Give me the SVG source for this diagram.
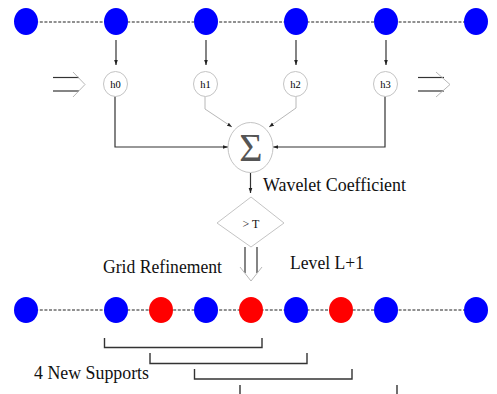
<svg xmlns="http://www.w3.org/2000/svg" width="497" height="394" viewBox="0 0 497 394">
<defs>
<marker id="ah" viewBox="0 0 6 6" refX="6" refY="3" markerWidth="5" markerHeight="5" orient="auto" markerUnits="userSpaceOnUse">
<path d="M0,0.8 L6,3 L0,5.2 z" fill="#222"/>
</marker>
<style>
.dash{stroke:#222;stroke-width:1.1;stroke-dasharray:3 1.6;fill:none}
.blue{fill:#0000ff}
.red{fill:#ff0000}
.ln{stroke:#333;stroke-width:1.2;fill:none}
.lt{stroke:#b8b8b8;stroke-width:1;fill:none}
.shape{stroke:#c4c4c4;stroke-width:1;fill:#fff}
.lbl{font-family:"Liberation Serif",serif;font-size:19px;fill:#111}
.h{font-family:"Liberation Serif",serif;font-size:10.5px;fill:#000;text-anchor:middle}
.br{stroke:#333;stroke-width:1.4;fill:none}
</style>
</defs>

<g id="connectors">
<line class="dash" x1="26" y1="22" x2="476" y2="22"/>
<line class="dash" x1="26" y1="310" x2="476" y2="310"/>
<line class="ln" x1="116" y1="40" x2="116" y2="65" marker-end="url(#ah)"/>
<line class="ln" x1="206" y1="40" x2="206" y2="65" marker-end="url(#ah)"/>
<line class="ln" x1="296" y1="40" x2="296" y2="65" marker-end="url(#ah)"/>
<line class="ln" x1="386" y1="40" x2="386" y2="65" marker-end="url(#ah)"/>
<polyline class="ln" points="115,96 115,147 228,147" marker-end="url(#ah)"/>
<polyline class="ln" points="385,96 385,147 273,147" marker-end="url(#ah)"/>
<polyline class="lt" points="205,96 205,109 232,127" marker-end="url(#ah)"/>
<polyline class="lt" points="296,96 296,108 269,127" marker-end="url(#ah)"/>
<line class="ln" x1="250.5" y1="173" x2="250.5" y2="193" marker-end="url(#ah)"/>
<g id="double-left">
<line class="ln" x1="53" y1="77.5" x2="79" y2="77.5"/>
<line class="ln" x1="53" y1="91" x2="79" y2="91"/>
<polyline class="lt" points="73,72 85,84.5 73,97"/>
</g>
<g id="double-right">
<line class="ln" x1="418" y1="77.5" x2="444" y2="77.5"/>
<line class="ln" x1="418" y1="91" x2="444" y2="91"/>
<polyline class="lt" points="436,72 450,84.5 436,97"/>
</g>
<g id="double-down">
<line class="ln" x1="245" y1="247" x2="245" y2="273"/>
<line class="ln" x1="257" y1="247" x2="257" y2="273"/>
<polyline class="lt" points="240,267 251,281 262,267"/>
</g>
</g>

<g id="top-row">
<ellipse class="blue" cx="26" cy="21.5" rx="12" ry="13.5"/>
<ellipse class="blue" cx="116" cy="21.5" rx="12" ry="13.5"/>
<ellipse class="blue" cx="206" cy="21.5" rx="12" ry="13.5"/>
<ellipse class="blue" cx="296" cy="21.5" rx="12" ry="13.5"/>
<ellipse class="blue" cx="386" cy="21.5" rx="12" ry="13.5"/>
<ellipse class="blue" cx="476" cy="21.5" rx="12" ry="13.5"/>
</g>

<g id="h0"><ellipse class="shape" cx="115.5" cy="84" rx="12" ry="12.5"/><text class="h" x="115.5" y="87.5">h0</text></g>
<g id="h1"><ellipse class="shape" cx="205.5" cy="84" rx="12" ry="12.5"/><text class="h" x="205.5" y="87.5">h1</text></g>
<g id="h2"><ellipse class="shape" cx="295.5" cy="84" rx="12" ry="12.5"/><text class="h" x="295.5" y="87.5">h2</text></g>
<g id="h3"><ellipse class="shape" cx="385.5" cy="84" rx="12" ry="12.5"/><text class="h" x="385.5" y="87.5">h3</text></g>

<g id="sum">
<ellipse class="shape" cx="250.5" cy="147.5" rx="22.5" ry="25"/>
<text x="251" y="161" font-family="Liberation Serif, serif" font-size="40" fill="#555" text-anchor="middle">Σ</text>
</g>

<text class="lbl" x="263" y="191" textLength="143" lengthAdjust="spacingAndGlyphs">Wavelet Coefficient</text>

<g id="threshold">
<polygon class="shape" points="251,197 284,223 251,247 217,223"/>
<text x="251" y="228" font-family="Liberation Serif, serif" font-size="12" fill="#111" text-anchor="middle">&gt; T</text>
</g>

<text class="lbl" x="103" y="273" textLength="119" lengthAdjust="spacingAndGlyphs">Grid Refinement</text>
<text class="lbl" x="290" y="269" textLength="74" lengthAdjust="spacingAndGlyphs">Level L+1</text>

<g id="bottom-row">
<ellipse class="blue" cx="26" cy="310" rx="12" ry="13"/>
<ellipse class="blue" cx="116" cy="310" rx="12" ry="13"/>
<ellipse class="red" cx="161" cy="310" rx="12" ry="13"/>
<ellipse class="blue" cx="206" cy="310" rx="12" ry="13"/>
<ellipse class="red" cx="251" cy="310" rx="12" ry="13"/>
<ellipse class="blue" cx="296" cy="310" rx="12" ry="13"/>
<ellipse class="red" cx="341" cy="310" rx="12" ry="13"/>
<ellipse class="blue" cx="386" cy="310" rx="12" ry="13"/>
<ellipse class="blue" cx="476" cy="310" rx="12" ry="13"/>
</g>

<g id="supports">
<polyline class="br" points="104.5,338 104.5,347.5 262,347.5 262,338"/>
<polyline class="br" points="150,353 150,363.5 307,363.5 307,353"/>
<polyline class="br" points="194.5,369 194.5,379 352,379 352,369"/>
<line class="br" x1="240" y1="385" x2="240" y2="394"/>
<line class="br" x1="397" y1="385" x2="397" y2="394"/>
</g>
<text class="lbl" x="34" y="379" textLength="115" lengthAdjust="spacingAndGlyphs">4 New Supports</text>
</svg>
